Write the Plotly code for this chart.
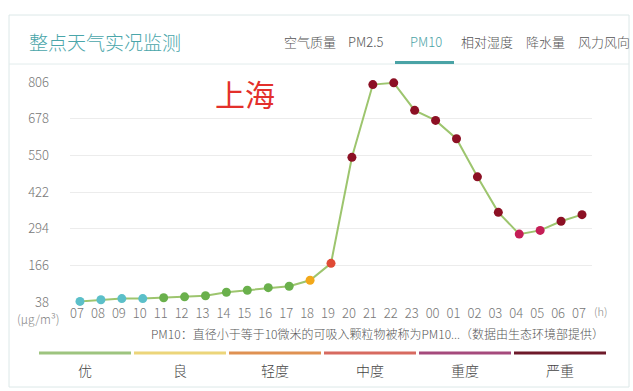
import plotly.graph_objects as go

# ---------------- data ----------------
hours = ["07", "08", "09", "10", "11", "12", "13", "14", "15", "16", "17", "18",
         "19", "20", "21", "22", "23", "00", "01", "02", "03", "04", "05", "06", "07"]
pm10 = [40, 46, 50, 50, 53, 56, 60, 72, 79, 88, 93, 114,
        173, 543, 797, 803, 707, 672, 608, 475, 351, 275, 288, 320, 343]
point_colors = ["#5bbfc9"] * 4 + ["#6ab04c"] * 7 + ["#f2a81a", "#e04a35"] + \
               ["#8c1024"] * 8 + ["#c41e56"] * 2 + ["#8c1024"] * 2
y_ticks = [38, 166, 294, 422, 550, 678, 806]
tabs = ["空气质量", "PM2.5", "PM10", "相对湿度", "降水量", "风力风向"]
tab_x = [282, 346, 408, 459, 524, 576]
levels = ["优", "良", "轻度", "中度", "重度", "严重"]
level_colors = ["#9dc47f", "#ecd57a", "#df9152", "#d76a60", "#a54a7c", "#6e1a2a"]

W, H = 633, 391
ML, MR, MT, MB = 70, 41, 82, 89
PW, PH = W - ML - MR, H - MT - MB

def px(x):
    return (x - ML) / PW

def py(y):
    return (H - MB - y) / PH

FONT = "Noto Sans CJK SC"
LW = 300

fig = go.Figure()
fig.add_trace(go.Scatter(
    x=list(range(len(hours))), y=pm10, mode="lines+markers",
    line=dict(color="#9dc56e", width=2),
    marker=dict(color=point_colors, size=9, line=dict(width=0)),
    cliponaxis=False, hoverinfo="y", showlegend=False))

shapes = []
# card border
shapes.append(dict(type="rect", xref="paper", yref="paper",
                   x0=px(9), x1=px(629), y0=py(387), y1=py(15),
                   line=dict(color="#dce8e8", width=1), layer="below"))
# header separator
shapes.append(dict(type="line", xref="paper", yref="paper",
                   x0=px(9), x1=px(629), y0=py(64), y1=py(64),
                   line=dict(color="#e2ecec", width=1)))
# active tab underline
shapes.append(dict(type="rect", xref="paper", yref="paper",
                   x0=px(395), x1=px(454), y0=py(64), y1=py(61),
                   fillcolor="#4aa3a6", line=dict(width=0)))
# level bars
seg_x0 = [39, 134, 229, 324, 419, 514]
for x0, c in zip(seg_x0, level_colors):
    shapes.append(dict(type="line", xref="paper", yref="paper",
                       x0=px(x0), x1=px(x0 + 92), y0=py(353), y1=py(353),
                       line=dict(color=c, width=3)))

ann = []
ann.append(dict(text="整点天气实况监测", x=px(27), y=py(41), xanchor="left", yanchor="middle",
                font=dict(size=19, color="#4aa6aa", family=FONT, weight=LW)))
for t, x in zip(tabs, tab_x):
    ann.append(dict(text=t, x=px(x), y=py(41), xanchor="left", yanchor="middle",
                    font=dict(size=13, color="#4aa3a6" if t == "PM10" else "#555555",
                              family=FONT, weight=LW)))
ann.append(dict(text="上海", x=px(245), y=py(93), xanchor="center", yanchor="middle",
                font=dict(size=30, color="#e3302b", family=FONT)))
ann.append(dict(text="(μg/m³)", x=px(38), y=py(318), xanchor="center", yanchor="middle",
                font=dict(size=12, color="#888888", family=FONT, weight=LW)))
ann.append(dict(text="(h)", x=px(600), y=py(311), xanchor="center", yanchor="middle",
                font=dict(size=11, color="#888888", family=FONT, weight=LW)))
ann.append(dict(text="PM10：直径小于等于10微米的可吸入颗粒物被称为PM10...（数据由生态环境部提供）",
                x=px(606), y=py(333), xanchor="right", yanchor="middle",
                font=dict(size=12, color="#555555", family=FONT, weight=LW)))
for x0, lv in zip(seg_x0, levels):
    ann.append(dict(text=lv, x=px(x0 + 46), y=py(370), xanchor="center", yanchor="middle",
                    font=dict(size=14, color="#444444", family=FONT, weight=LW)))
for a in ann:
    a.update(xref="paper", yref="paper", showarrow=False)

fig.update_layout(
    width=W, height=H, margin=dict(l=ML, r=MR, t=MT, b=MB),
    paper_bgcolor="white", plot_bgcolor="white",
    shapes=shapes, annotations=ann,
    font=dict(family=FONT),
    xaxis=dict(tickmode="array", tickvals=list(range(len(hours))), ticktext=hours,
               range=[-0.478, 24.478], showgrid=False, zeroline=False, showline=False,
               ticks="", ticklabelshift=-3, ticklabelstandoff=2,
               tickfont=dict(size=13, color="#777777", family=FONT, weight=LW), fixedrange=True),
    yaxis=dict(tickmode="array", tickvals=y_ticks, range=[38, 806],
               showgrid=True, gridcolor="#ececec", gridwidth=1, zeroline=False, showline=False,
               ticks="", ticklabelstandoff=20,
               tickfont=dict(size=13, color="#777777", family=FONT, weight=LW), fixedrange=True),
)

fig.write_html("out.html")
